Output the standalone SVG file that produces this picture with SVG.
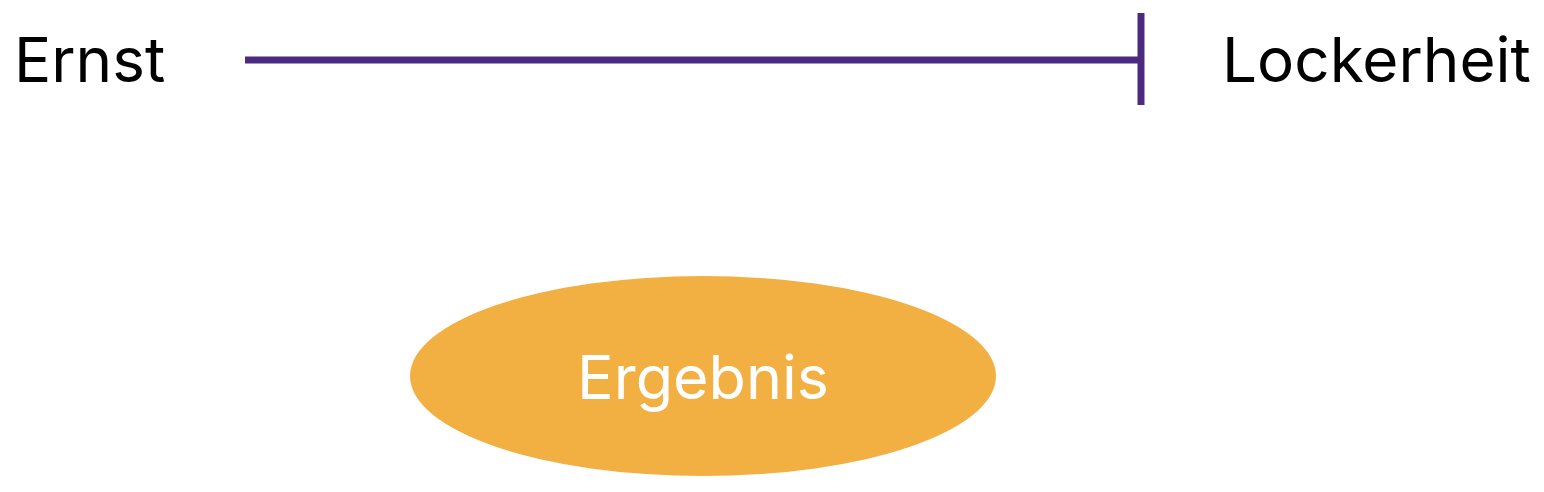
<svg xmlns="http://www.w3.org/2000/svg" width="1544" height="492" viewBox="0 0 1544 492">
<style>
.lbl{font-family:Inter,"Liberation Sans",sans-serif;font-size:62px;fill:#000}
.conn{stroke:#4B2A7F;stroke-width:7;fill:none}
.ell{fill:#F2B042}
.etxt{font-family:Inter,"Liberation Sans",sans-serif;font-size:61px;fill:#fff}
</style>
<rect width="1544" height="492" fill="#fff"/>
<g id="ernst"><text class="lbl" x="14" y="82">Ernst</text></g>
<g id="lockerheit"><text class="lbl" x="1222" y="82">Lockerheit</text></g>
<g id="connectors">
<line class="conn" x1="245" y1="60" x2="1141" y2="60"/>
<line class="conn" x1="1141" y1="13" x2="1141" y2="105"/>
</g>
<g id="ergebnis">
<ellipse class="ell" cx="703" cy="376" rx="293" ry="100"/>
<text class="etxt" x="703" y="399" text-anchor="middle">Ergebnis</text>
</g>
</svg>
